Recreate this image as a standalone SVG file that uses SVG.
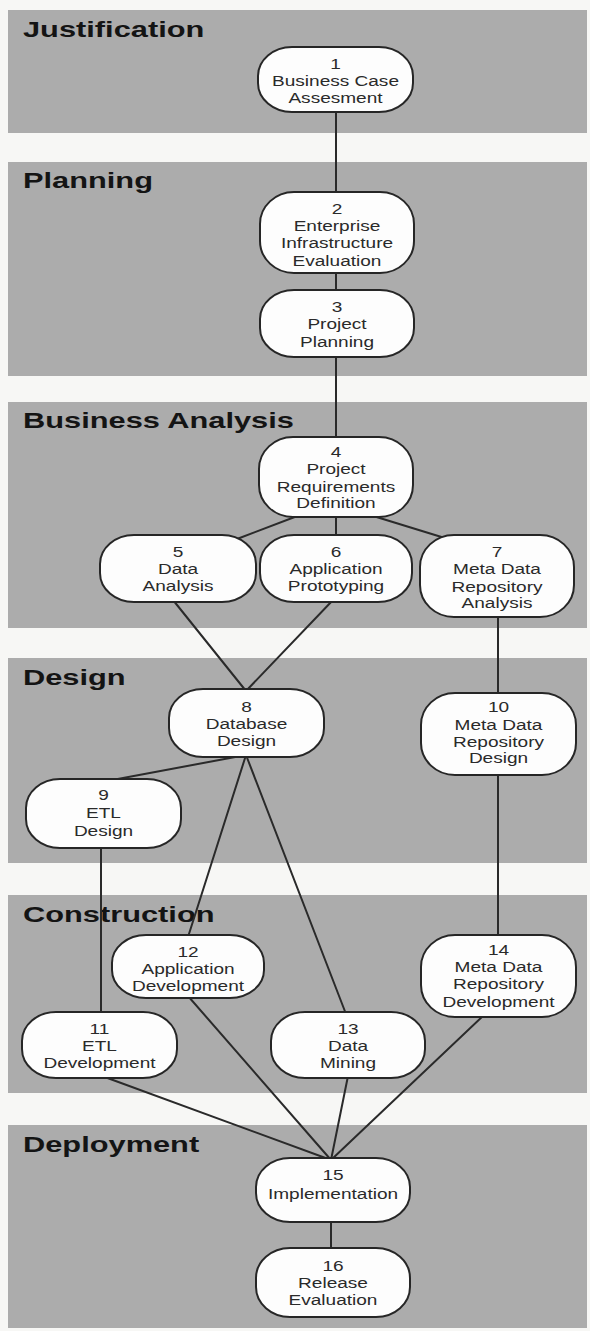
<svg xmlns="http://www.w3.org/2000/svg" width="590" height="1331" viewBox="0 0 590 1331">
  <defs>
    <style>
      .bg { fill: #f7f7f5; }
      .band { fill: #acacac; }
      .phase { font-family: "Liberation Sans", Arial, sans-serif; font-weight: bold; font-size: 22px; fill: #141414; }
      .box { fill: #fdfdfd; stroke: #262626; stroke-width: 2; }
      .lbl { font-family: "Liberation Sans", Arial, sans-serif; font-size: 14px; fill: #2a2a2a; text-anchor: middle; }
      .edge { stroke: #2a2a2a; stroke-width: 2; fill: none; stroke-linecap: round; }
    </style>
  </defs>

  <rect class="bg" x="0" y="0" width="590" height="1331"/>

  <!-- phase bands -->
  <g id="bands">
    <rect class="band" x="8" y="10" width="579" height="123"/>
    <rect class="band" x="8" y="162" width="579" height="214"/>
    <rect class="band" x="8" y="402" width="579" height="226"/>
    <rect class="band" x="8" y="658" width="579" height="205"/>
    <rect class="band" x="8" y="895" width="579" height="198"/>
    <rect class="band" x="8" y="1125" width="579" height="203"/>
  </g>

  <!-- phase titles (wide lettering) -->
  <g id="phase-titles" class="phase">
    <text transform="translate(23 37) scale(1.4 1)">Justification</text>
    <text transform="translate(23 188) scale(1.4 1)">Planning</text>
    <text transform="translate(23 428) scale(1.4 1)">Business Analysis</text>
    <text transform="translate(23 685) scale(1.4 1)">Design</text>
    <text transform="translate(23 922) scale(1.4 1)">Construction</text>
    <text transform="translate(23 1152) scale(1.4 1)">Deployment</text>
  </g>

  <!-- connectors -->
  <g id="connectors" class="edge">
    <line x1="336" y1="110" x2="336" y2="194"/>
    <line x1="336" y1="271" x2="336" y2="292"/>
    <line x1="336" y1="355" x2="336" y2="439"/>
    <line x1="300" y1="515" x2="237" y2="539"/>
    <line x1="336" y1="515" x2="336" y2="537"/>
    <line x1="370" y1="515" x2="448" y2="539"/>
    <line x1="173" y1="600" x2="246" y2="691"/>
    <line x1="333" y1="600" x2="246" y2="691"/>
    <line x1="498" y1="615" x2="498" y2="695"/>
    <line x1="246" y1="755" x2="107" y2="781"/>
    <line x1="246" y1="755" x2="188" y2="937"/>
    <line x1="246" y1="755" x2="346" y2="1014"/>
    <line x1="101" y1="846" x2="101" y2="1014"/>
    <line x1="498" y1="773" x2="498" y2="937"/>
    <line x1="102" y1="1076" x2="331" y2="1160"/>
    <line x1="188" y1="996" x2="331" y2="1160"/>
    <line x1="348" y1="1076" x2="331" y2="1160"/>
    <line x1="484" y1="1015" x2="331" y2="1160"/>
    <line x1="331" y1="1220" x2="331" y2="1250"/>
  </g>

  <!-- process steps -->
  <g id="n1">
    <rect class="box" x="258" y="47" width="155" height="65" rx="34" ry="29"/>
    <g class="lbl" transform="translate(335.5 0) scale(1.36 1)">
      <text x="0" y="69">1</text><text x="0" y="86">Business Case</text><text x="0" y="103">Assesment</text>
    </g>
  </g>
  <g id="n2">
    <rect class="box" x="260" y="192" width="154" height="81" rx="34" ry="32"/>
    <g class="lbl" transform="translate(337 0) scale(1.36 1)">
      <text x="0" y="214">2</text><text x="0" y="231">Enterprise</text><text x="0" y="248.5">Infrastructure</text><text x="0" y="266">Evaluation</text>
    </g>
  </g>
  <g id="n3">
    <rect class="box" x="260" y="290" width="154" height="67" rx="34" ry="29"/>
    <g class="lbl" transform="translate(337 0) scale(1.36 1)">
      <text x="0" y="312">3</text><text x="0" y="329">Project</text><text x="0" y="347">Planning</text>
    </g>
  </g>
  <g id="n4">
    <rect class="box" x="259" y="437" width="154" height="80" rx="34" ry="32"/>
    <g class="lbl" transform="translate(336 0) scale(1.36 1)">
      <text x="0" y="457">4</text><text x="0" y="474">Project</text><text x="0" y="492">Requirements</text><text x="0" y="508">Definition</text>
    </g>
  </g>
  <g id="n5">
    <rect class="box" x="100" y="535" width="156" height="67" rx="34" ry="29"/>
    <g class="lbl" transform="translate(178 0) scale(1.36 1)">
      <text x="0" y="557">5</text><text x="0" y="574">Data</text><text x="0" y="591">Analysis</text>
    </g>
  </g>
  <g id="n6">
    <rect class="box" x="260" y="535" width="152" height="67" rx="34" ry="29"/>
    <g class="lbl" transform="translate(336 0) scale(1.36 1)">
      <text x="0" y="557">6</text><text x="0" y="574">Application</text><text x="0" y="591">Prototyping</text>
    </g>
  </g>
  <g id="n7">
    <rect class="box" x="420" y="535" width="154" height="82" rx="34" ry="32"/>
    <g class="lbl" transform="translate(497 0) scale(1.36 1)">
      <text x="0" y="557">7</text><text x="0" y="574">Meta Data</text><text x="0" y="592">Repository</text><text x="0" y="608">Analysis</text>
    </g>
  </g>
  <g id="n8">
    <rect class="box" x="169" y="689" width="155" height="68" rx="34" ry="29"/>
    <g class="lbl" transform="translate(246.5 0) scale(1.36 1)">
      <text x="0" y="712">8</text><text x="0" y="729">Database</text><text x="0" y="746">Design</text>
    </g>
  </g>
  <g id="n9">
    <rect class="box" x="26" y="779" width="155" height="69" rx="34" ry="29"/>
    <g class="lbl" transform="translate(103.5 0) scale(1.36 1)">
      <text x="0" y="800">9</text><text x="0" y="818">ETL</text><text x="0" y="836">Design</text>
    </g>
  </g>
  <g id="n10">
    <rect class="box" x="421" y="693" width="155" height="82" rx="34" ry="32"/>
    <g class="lbl" transform="translate(498.5 0) scale(1.36 1)">
      <text x="0" y="712">10</text><text x="0" y="730">Meta Data</text><text x="0" y="747">Repository</text><text x="0" y="763">Design</text>
    </g>
  </g>
  <g id="n11">
    <rect class="box" x="22" y="1012" width="155" height="66" rx="34" ry="29"/>
    <g class="lbl" transform="translate(99.5 0) scale(1.36 1)">
      <text x="0" y="1034">11</text><text x="0" y="1051">ETL</text><text x="0" y="1068">Development</text>
    </g>
  </g>
  <g id="n12">
    <rect class="box" x="112" y="935" width="152" height="63" rx="34" ry="28"/>
    <g class="lbl" transform="translate(188 0) scale(1.36 1)">
      <text x="0" y="957">12</text><text x="0" y="974">Application</text><text x="0" y="991">Development</text>
    </g>
  </g>
  <g id="n13">
    <rect class="box" x="271" y="1012" width="154" height="66" rx="34" ry="29"/>
    <g class="lbl" transform="translate(348 0) scale(1.36 1)">
      <text x="0" y="1034">13</text><text x="0" y="1051">Data</text><text x="0" y="1068">Mining</text>
    </g>
  </g>
  <g id="n14">
    <rect class="box" x="421" y="935" width="155" height="82" rx="34" ry="32"/>
    <g class="lbl" transform="translate(498.5 0) scale(1.36 1)">
      <text x="0" y="955">14</text><text x="0" y="972">Meta Data</text><text x="0" y="989">Repository</text><text x="0" y="1007">Development</text>
    </g>
  </g>
  <g id="n15">
    <rect class="box" x="256" y="1158" width="154" height="64" rx="34" ry="29"/>
    <g class="lbl" transform="translate(333 0) scale(1.36 1)">
      <text x="0" y="1180">15</text><text x="0" y="1199">Implementation</text>
    </g>
  </g>
  <g id="n16">
    <rect class="box" x="256" y="1248" width="154" height="69" rx="34" ry="30"/>
    <g class="lbl" transform="translate(333 0) scale(1.36 1)">
      <text x="0" y="1271">16</text><text x="0" y="1288">Release</text><text x="0" y="1305">Evaluation</text>
    </g>
  </g>
</svg>
